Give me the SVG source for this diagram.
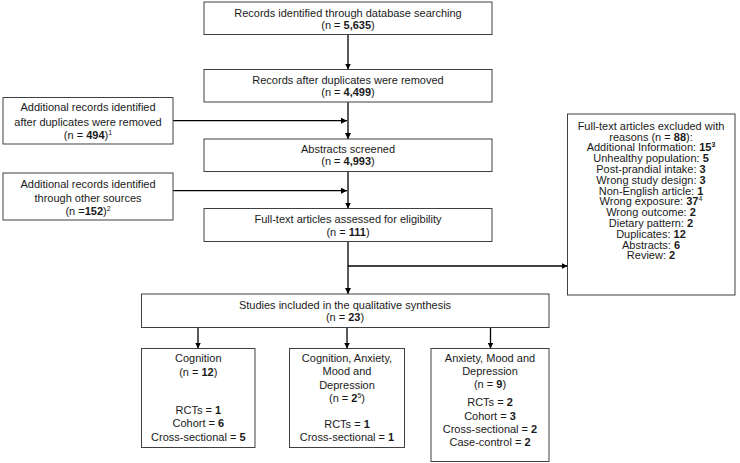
<svg xmlns="http://www.w3.org/2000/svg" width="740" height="463" viewBox="0 0 740 463">
<style>
.box{fill:#fff;stroke:#404040;stroke-width:1}
text{font-family:"Liberation Sans",Arial,sans-serif;font-size:11px;fill:#1a1a1a;text-anchor:middle}
.b{font-weight:bold}
.sup{font-size:7px}
.c{fill:none;stroke:#000;stroke-width:1.3}
</style>
<defs>
<marker id="ah" viewBox="0 0 6 6" refX="6" refY="3" markerWidth="6" markerHeight="6" markerUnits="userSpaceOnUse" orient="auto">
<path d="M0,0 L6,3 L0,6 z" fill="#000"/>
</marker>
</defs>
<rect width="740" height="463" fill="#fff"/>
<g id="connectors">
<line class="c" x1="348" y1="34.5" x2="348" y2="69.5" marker-end="url(#ah)"/>
<line class="c" x1="348" y1="102" x2="348" y2="139" marker-end="url(#ah)"/>
<line class="c" x1="173" y1="120.7" x2="347" y2="120.7" marker-end="url(#ah)"/>
<line class="c" x1="348" y1="171.5" x2="348" y2="208.5" marker-end="url(#ah)"/>
<line class="c" x1="173" y1="190.7" x2="347" y2="190.7" marker-end="url(#ah)"/>
<line class="c" x1="348" y1="241.5" x2="348" y2="294" marker-end="url(#ah)"/>
<line class="c" x1="348" y1="266" x2="567.5" y2="266" marker-end="url(#ah)"/>
<line class="c" x1="198" y1="327.5" x2="198" y2="348.5" marker-end="url(#ah)"/>
<line class="c" x1="347" y1="327.5" x2="347" y2="348.5" marker-end="url(#ah)"/>
<line class="c" x1="490.5" y1="327.5" x2="490.5" y2="348.5" marker-end="url(#ah)"/>
</g>
<g id="identified">
<rect class="box" x="204" y="2" width="288" height="32.5"/>
<text x="348" y="17">Records identified through database searching</text>
<text x="348" y="29">(n = <tspan class="b">5,635</tspan>)</text>
</g>
<g id="deduplicated">
<rect class="box" x="204" y="69.5" width="288" height="32.5"/>
<text x="348" y="84">Records after duplicates were removed</text>
<text x="348" y="96">(n = <tspan class="b">4,499</tspan>)</text>
</g>
<g id="additional1">
<rect class="box" x="3" y="97.5" width="170" height="46.5"/>
<text x="88" y="111">Additional records identified</text>
<text x="88" y="125.5">after duplicates were removed</text>
<text x="88" y="139">(n = <tspan class="b">494</tspan>)<tspan class="sup" dy="-4">1</tspan></text>
</g>
<g id="abstracts">
<rect class="box" x="204" y="139" width="288" height="32.5"/>
<text x="348" y="153.3">Abstracts screened</text>
<text x="348" y="165.3">(n = <tspan class="b">4,993</tspan>)</text>
</g>
<g id="additional2">
<rect class="box" x="3" y="173" width="170" height="47"/>
<text x="88" y="188">Additional records identified</text>
<text x="88" y="201.5">through other sources</text>
<text x="88" y="214.5">(n =<tspan class="b">152</tspan>)<tspan class="sup" dy="-4">2</tspan></text>
</g>
<g id="fulltext">
<rect class="box" x="204" y="208.5" width="288" height="33"/>
<text x="348" y="223.3">Full-text  articles assessed for eligibility</text>
<text x="348" y="235.7">(n = <tspan class="b">111</tspan>)</text>
</g>
<g id="excluded">
<rect class="box" x="567.5" y="114" width="167.5" height="181"/>
<text x="651" y="129.7">Full-text  articles excluded with</text>
<text x="651" y="140.5">reasons (n = <tspan class="b">88</tspan>):</text>
<text x="651" y="151.3">Additional Information:  <tspan class="b">15</tspan><tspan class="sup b" dy="-4">3</tspan></text>
<text x="651" y="162.1">Unhealthy  population: <tspan class="b">5</tspan></text>
<text x="651" y="172.9">Post-prandial intake: <tspan class="b">3</tspan></text>
<text x="651" y="183.7">Wrong study  design: <tspan class="b">3</tspan></text>
<text x="651" y="194.5">Non-English article: <tspan class="b">1</tspan></text>
<text x="651" y="205.3">Wrong exposure:  <tspan class="b">37</tspan><tspan class="sup" dy="-4">4</tspan></text>
<text x="651" y="216.1">Wrong outcome: <tspan class="b">2</tspan></text>
<text x="651" y="226.9">Dietary pattern: <tspan class="b">2</tspan></text>
<text x="651" y="237.7">Duplicates: <tspan class="b">12</tspan></text>
<text x="651" y="248.5">Abstracts: <tspan class="b">6</tspan></text>
<text x="651" y="259.3">Review: <tspan class="b">2</tspan></text>
</g>
<g id="included">
<rect class="box" x="141.5" y="294" width="407.5" height="33.5"/>
<text x="345" y="309">Studies included in the qualitative synthesis</text>
<text x="345" y="321.3">(n = <tspan class="b">23</tspan>)</text>
</g>
<g id="cognition">
<rect class="box" x="141.5" y="348.5" width="113.5" height="99"/>
<text x="198.3" y="362.3">Cognition</text>
<text x="198.3" y="375.7">(n = <tspan class="b">12</tspan>)</text>
<text x="198.3" y="414">RCTs = <tspan class="b">1</tspan></text>
<text x="198.3" y="427.4">Cohort = <tspan class="b">6</tspan></text>
<text x="198.3" y="440.7">Cross-sectional = <tspan class="b">5</tspan></text>
</g>
<g id="mixed">
<rect class="box" x="289.5" y="348.5" width="115" height="99"/>
<text x="347" y="362.3">Cognition, Anxiety,</text>
<text x="347" y="375.3">Mood and</text>
<text x="347" y="388.5">Depression</text>
<text x="347" y="401.7">(n = <tspan class="b">2</tspan><tspan class="sup" dy="-4">5</tspan><tspan dy="4">)</tspan></text>
<text x="347" y="428">RCTs = <tspan class="b">1</tspan></text>
<text x="347" y="440.7">Cross-sectional = <tspan class="b">1</tspan></text>
</g>
<g id="anxiety">
<rect class="box" x="431" y="348.5" width="118" height="113"/>
<text x="490" y="362.3">Anxiety,  Mood and</text>
<text x="490" y="375">Depression</text>
<text x="490" y="388">(n = <tspan class="b">9</tspan>)</text>
<text x="490" y="406.3">RCTs = <tspan class="b">2</tspan></text>
<text x="490" y="419.7">Cohort = <tspan class="b">3</tspan></text>
<text x="490" y="433">Cross-sectional  = <tspan class="b">2</tspan></text>
<text x="490" y="445.7">Case-control = <tspan class="b">2</tspan></text>
</g>
</svg>
